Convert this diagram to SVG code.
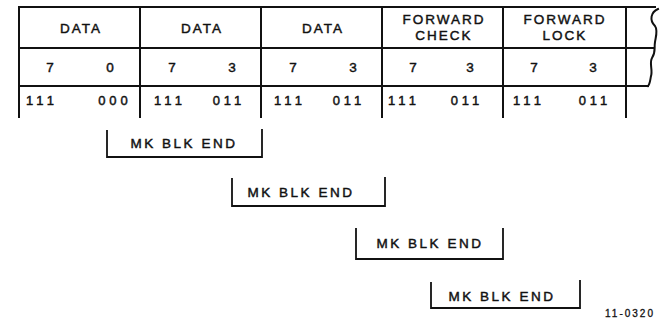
<svg xmlns="http://www.w3.org/2000/svg" width="664" height="324" viewBox="0 0 664 324">
<style>
.ln{stroke:#111;stroke-width:2;fill:none;stroke-linecap:square}
.br{stroke:#111;stroke-width:1.8;fill:none}
text{font-family:"Liberation Sans",Arial,sans-serif;fill:#111;stroke:#111;stroke-width:0.45;text-anchor:middle}
.h{font-size:13.5px;letter-spacing:2px}
.d{font-size:13.5px}
.n{font-size:13px;letter-spacing:4px}
.m{font-size:13.5px;letter-spacing:2.5px}
.f{font-size:10px;letter-spacing:2px;stroke-width:0.3}
</style>
<rect width="664" height="324" fill="#fff"/>
<g id="connectors">
<path class="ln" d="M19,7 H655"/>
<path class="ln" d="M19,48 H653"/>
<path class="ln" d="M19,86 H648"/>
<path class="ln" d="M19,7 V117 M140,7 V117 M261,7 V117 M382,7 V117 M503,7 V117 M626,7 V117"/>
<path class="ln" d="M658,9 C651,12 649,20 655,26 C658,30 656,36 655,42 C654,48 656,52 652,58 C649,63 653,70 651,76 C650,81 650,84 648,86"/>
</g>
<g id="header">
<text class="h" x="81" y="33">DATA</text>
<text class="h" x="202" y="33">DATA</text>
<text class="h" x="323" y="33">DATA</text>
<text class="h" x="444" y="24">FORWARD</text>
<text class="h" x="444" y="40">CHECK</text>
<text class="h" x="565" y="24">FORWARD</text>
<text class="h" x="565" y="40">LOCK</text>
</g>
<g id="bits">
<text class="d" x="50" y="72">7</text><text class="d" x="110" y="72">0</text>
<text class="d" x="172" y="72">7</text><text class="d" x="232" y="72">3</text>
<text class="d" x="293" y="72">7</text><text class="d" x="353" y="72">3</text>
<text class="d" x="413" y="72">7</text><text class="d" x="470" y="72">3</text>
<text class="d" x="534" y="72">7</text><text class="d" x="593" y="72">3</text>
</g>
<g id="codes">
<text class="n" x="42" y="105">111</text><text class="n" x="115" y="105">000</text>
<text class="n" x="170" y="105">111</text><text class="n" x="229" y="105">011</text>
<text class="n" x="290" y="105">111</text><text class="n" x="349" y="105">011</text>
<text class="n" x="404" y="105">111</text><text class="n" x="467" y="105">011</text>
<text class="n" x="529" y="105">111</text><text class="n" x="595" y="105">011</text>
</g>
<g id="mk1">
<path class="br" d="M107,130 V157 H262 V129"/>
<text class="m" x="184" y="148">MK BLK END</text>
</g>
<g id="mk2">
<path class="br" d="M232,178 V206 H385 V177"/>
<text class="m" x="301" y="197">MK BLK END</text>
</g>
<g id="mk3">
<path class="br" d="M356,228 V259 H503 V228"/>
<text class="m" x="430" y="248">MK BLK END</text>
</g>
<g id="mk4">
<path class="br" d="M431,282 V308 H580 V280"/>
<text class="m" x="502" y="301">MK BLK END</text>
</g>
<text class="f" x="630" y="317">11-0320</text>
</svg>
